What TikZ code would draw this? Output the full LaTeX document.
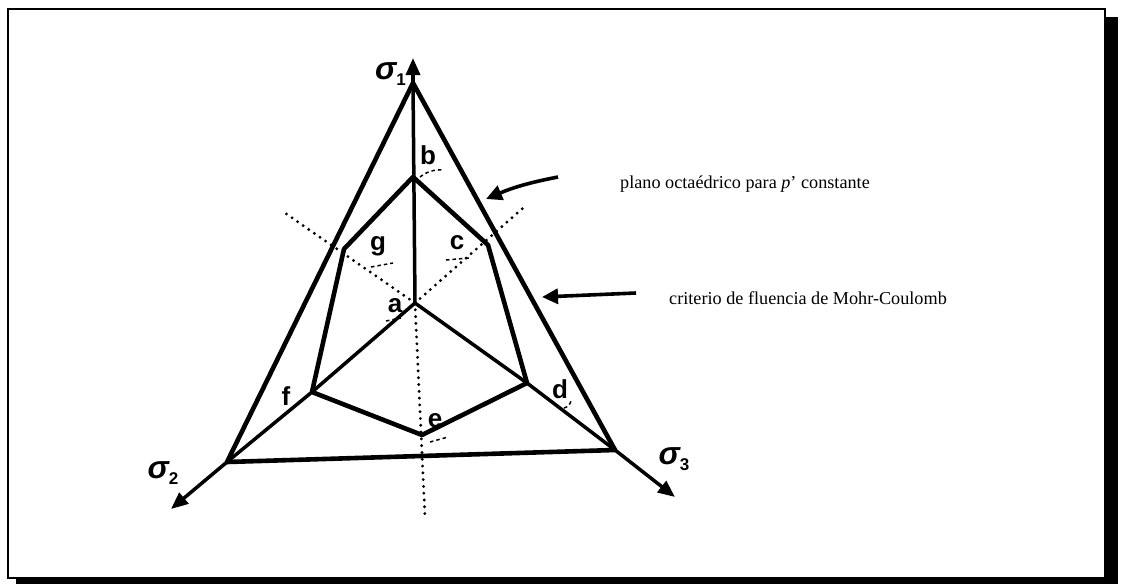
\documentclass[tikz,border=0pt]{standalone}
\usepackage{fontspec}
\setmainfont{Liberation Serif}
\setsansfont{Liberation Sans}
\usetikzlibrary{arrows.meta}

\tikzset{
    % Line styles
    yield line/.style={
        line width=4.6pt,
        line join=round,
        line cap=round
    },
    inner line/.style={
        line width=3.5pt,
        line cap=round
    },
    axis line/.style={
        line width=3.5pt,
        -{Triangle[length=17pt,width=14pt]}
    },
    guide line/.style={
        line width=3.2pt,
        line cap=round,
        dash pattern=on 0pt off 6.8pt
    },
    tick mark/.style={
        line width=1.5pt,
        dash pattern=on 3.5pt off 3pt
    },
    pointer/.style={
        line width=3.6pt,
        -{Triangle[length=16pt,width=15pt]}
    },
    % Text styles
    vertex label/.style={
        font=\fontsize{26}{26}\selectfont\sffamily\bfseries,
        inner sep=0pt
    },
    axis label/.style={
        font=\fontsize{32}{32}\selectfont\sffamily\bfseries\itshape,
        inner sep=0pt
    },
    note/.style={
        font=\fontsize{18.2}{20}\selectfont,
        anchor=west,
        inner sep=0pt
    }
}

\begin{document}
\begin{tikzpicture}[x=1pt, y=-1pt]
        \useasboundingbox (0,0) rectangle (1121,584);

        % Frame with shadow
        \fill[black] (16,17) rectangle (1118,584);
        \draw[line width=2.4pt, fill=white] (8,9) rectangle (1105,578);

        % Principal stress points
        \coordinate (top) at (413,83);
        \coordinate (left) at (227,462);
        \coordinate (right) at (615,450);
        \coordinate (s1 tip) at (413,58);
        \coordinate (s2 tip) at (171,509);
        \coordinate (s3 tip) at (675,497);

        % Hexagon corners
        \coordinate (a) at (415,303);
        \coordinate (b) at (413,177);
        \coordinate (c) at (488,245);
        \coordinate (d) at (527,383);
        \coordinate (e) at (422,435);
        \coordinate (f) at (312,392);
        \coordinate (g) at (344,249);

        % Ends of the projected axes
        \coordinate (guide nw) at (285,213);
        \coordinate (guide ne) at (523,208);
        \coordinate (guide s) at (425,518);

        % Dotted projections
        \draw[guide line] (a) -- (guide nw);
        \draw[guide line] (a) -- (guide ne);
        \draw[guide line] (a) -- (guide s);

        % Stress axes
        \draw[axis line] (top) -- (s1 tip);
        \draw[axis line] (left) -- (s2 tip);
        \draw[axis line] (right) -- (s3 tip);

        % Octahedral plane
        \draw[yield line] (top) -- (left) -- (right) -- cycle;

        % Inner lines
        \draw[inner line] (top) -- (a);
        \draw[inner line] (a) -- (f) -- (left);
        \draw[inner line] (a) -- (d) -- (right);

        % Mohr-Coulomb hexagon
        \draw[yield line] (b) -- (c) -- (d) -- (e) -- (f) -- (g) -- cycle;

        % Angle marks
        \draw[tick mark] (420,177) to[bend left=20] (443,170);
        \draw[tick mark] (371,267) -- (393,263);
        \draw[tick mark] (446,260) -- (469,258);
        \draw[tick mark] (386,321) -- (401,318);
        \draw[tick mark] (430,442) -- (448,437);
        \draw[tick mark] (564,408) to[bend right=30] (571,401);

        % Vertex labels
        \node[vertex label] (lab a) at (395,306) {a};
        \node[vertex label] (lab b) at (428,155) {b};
        \node[vertex label] (lab c) at (457,243) {c};
        \node[vertex label] (lab d) at (560,389) {d};
        \node[vertex label] (lab e) at (435,421) {e};
        \node[vertex label] (lab f) at (286,396) {f};
        \node[vertex label] (lab g) at (378,246) {g};

        % Axis labels
        \node[axis label, anchor=east] (lab s1) at (406,74) {σ{\upshape\fontsize{17}{17}\selectfont\raisebox{-6pt}{1}}};
        \node[axis label] (lab s2) at (163,473) {σ{\upshape\fontsize{17}{17}\selectfont\raisebox{-6pt}{2}}};
        \node[axis label] (lab s3) at (674,459) {σ{\upshape\fontsize{17}{17}\selectfont\raisebox{-6pt}{3}}};

        % Notes and pointers
        \node[note] (plane note) at (620,184) {plano octaédrico para \textit{p}’ constante};
        \node[note] (yield note) at (669,298) {criterio de fluencia de Mohr-Coulomb};
        \coordinate (plane tail) at (558,177);
        \coordinate (plane head) at (486,199);
        \coordinate (yield tail) at (636,293);
        \coordinate (yield head) at (542,297);
        \draw[pointer] (plane tail) to[bend right=6] (plane head);
        \draw[pointer] (yield tail) -- (yield head);
    \end{tikzpicture}
\end{document}
